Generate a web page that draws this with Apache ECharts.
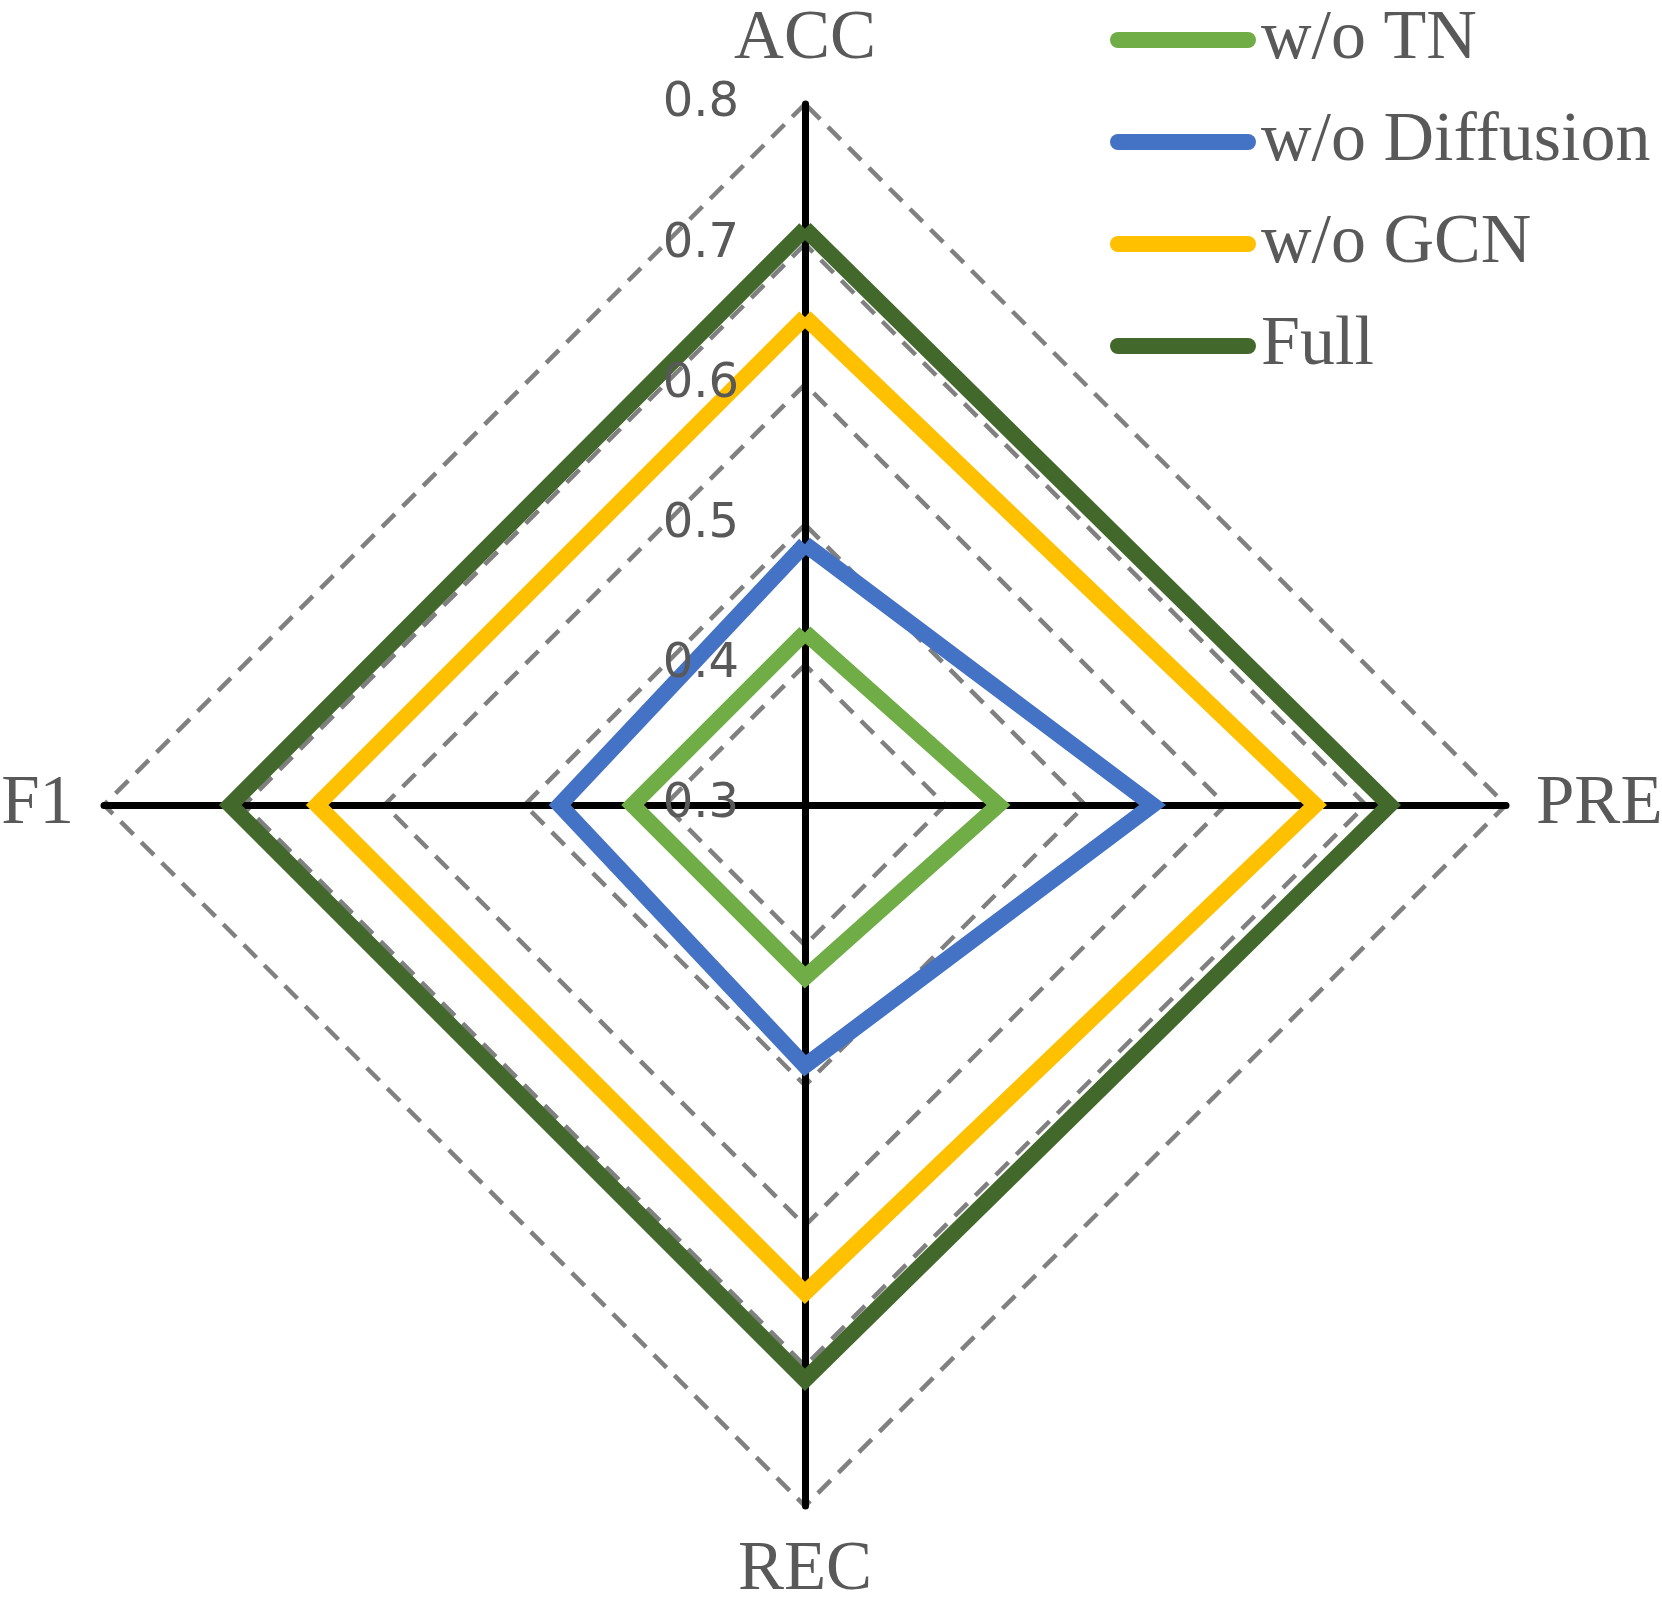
<!DOCTYPE html>
<html>
<head>
<meta charset="utf-8">
<script src="https://cdn.jsdelivr.net/npm/echarts@6/dist/echarts.min.js"></script>
<style>
  html, body { margin: 0; padding: 0; background: #fff; }
  #chart { width: 1662px; height: 1608px; }
</style>
</head>
<body>
<div id="chart"></div>
<script>
// indicators, counter-clockwise from top
var indicators = ["ACC", "F1", "REC", "PRE"];
var seriesNames = ["w/o TN", "w/o Diffusion", "w/o GCN", "Full"];
var seriesColors = ["#70AD47", "#4472C4", "#FFC000", "#43682B"];
// values in indicator order: ACC, F1, REC, PRE
var tnValues = [0.423, 0.423, 0.423, 0.438];
var diffusionValues = [0.486, 0.475, 0.486, 0.548];
var gcnValues = [0.648, 0.648, 0.648, 0.664];
var fullValues = [0.711, 0.710, 0.710, 0.717];
var axisMin = 0.3;
var axisMax = 0.8;
var tickStep = 0.1;

var allValues = [tnValues, diffusionValues, gcnValues, fullValues];
var cx = 805, cy = 805, R = 701;

var myChart = echarts.init(document.getElementById("chart"));

var option = {
  backgroundColor: "#fff",
  animation: false,
  legend: {
    orient: "vertical",
    left: 1105,
    top: 0,
    itemWidth: 146,
    itemHeight: 16,
    itemGap: 32,
    icon: "path://M8,0 H138 A8,8 0 0 1 138,16 H8 A8,8 0 0 1 8,0 Z",
    textStyle: {
      color: "#595959",
      fontFamily: "Liberation Serif",
      fontSize: 70,
      lineHeight: 70
    },
    data: seriesNames
  },
  // hidden grid only to place the tick labels along the ACC axis
  grid: { left: cx, top: cy - R, width: 1, height: R },
  xAxis: { type: "value", show: false },
  yAxis: {
    type: "value",
    min: axisMin,
    max: axisMax,
    interval: tickStep,
    z: 10,
    axisLine: { show: false },
    axisTick: { show: false },
    splitLine: { show: false },
    axisLabel: {
      margin: 66,
      color: "#595959",
      fontFamily: "DejaVu Sans",
      fontSize: 48,
      formatter: function (v) { return v.toFixed(1); }
    }
  },
  radar: {
    center: [cx, cy],
    radius: R,
    shape: "polygon",
    splitNumber: 5,
    startAngle: 90,
    indicator: indicators.map(function (n) {
      return { name: n, min: axisMin, max: axisMax };
    }),
    axisName: {
      color: "#595959",
      fontFamily: "Liberation Serif",
      fontSize: 69
    },
    nameGap: 30,
    axisLine: { lineStyle: { color: "#000", width: 7 } },
    axisTick: { show: false },
    axisLabel: { show: false },
    splitArea: { show: false },
    splitLine: {
      lineStyle: { color: "#808080", width: 4.5, type: [18, 11] }
    }
  },
  series: [
    {
      type: "radar",
      symbol: "none",
      z: 3,
      data: seriesNames.map(function (name, i) {
        return {
          name: name,
          value: allValues[i],
          itemStyle: { color: seriesColors[i] },
          lineStyle: { color: seriesColors[i], width: 16, join: "miter", miterLimit: 10 }
        };
      })
    }
  ]
};

myChart.setOption(option);
</script>
</body>
</html>
